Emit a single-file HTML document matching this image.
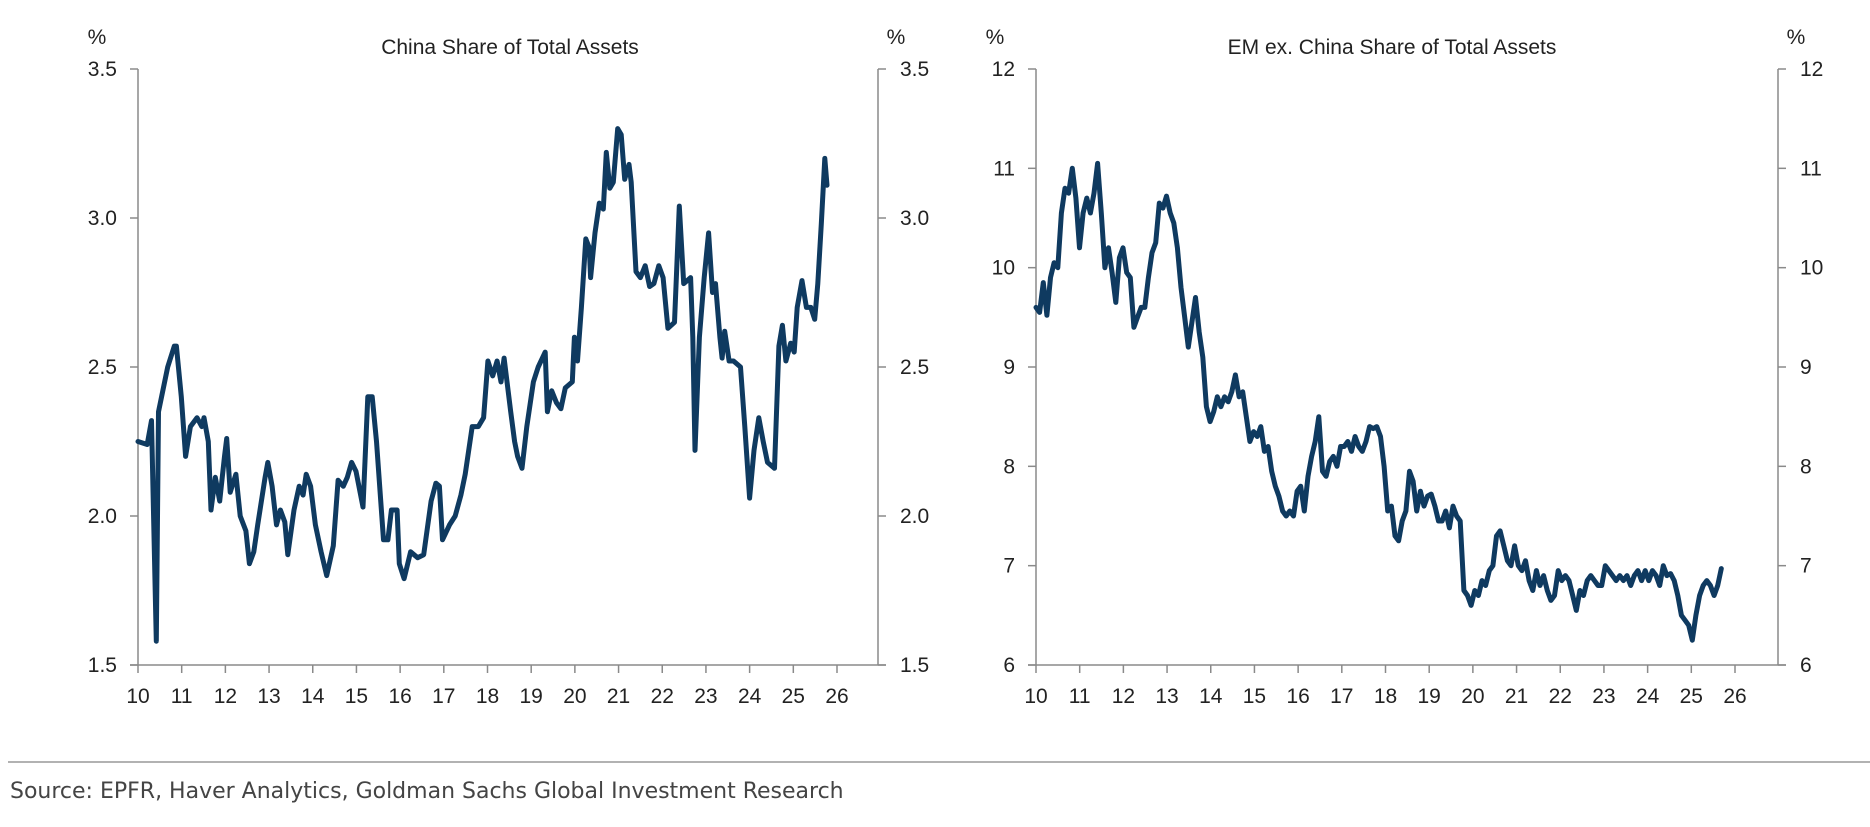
<!DOCTYPE html>
<html><head><meta charset="utf-8"><style>
html,body{margin:0;padding:0;background:#fff;}
svg{display:block;font-family:"Liberation Sans",Arial,sans-serif;}
</style></head><body>
<svg id="chart" width="1870" height="827" viewBox="0 0 1870 827">
<line x1="8" y1="762" x2="1870" y2="762" stroke="#999" stroke-width="1.5"/>
<text x="10" y="798" font-size="22" fill="#444" font-family="'DejaVu Sans','Liberation Sans',sans-serif">Source: EPFR, Haver Analytics, Goldman Sachs Global Investment Research</text>
</svg>
<script>
// China share data (year, %)
const chinaYears = [10.00,10.21,10.31,10.42,10.47,10.68,10.83,10.88,10.99,11.09,11.20,11.35,11.46,11.51,11.61,11.67,11.77,11.87,11.98,12.03,12.11,12.24,12.34,12.47,12.55,12.65,12.74,12.91,12.97,13.07,13.17,13.26,13.36,13.43,13.57,13.69,13.78,13.85,13.95,14.06,14.19,14.32,14.47,14.58,14.70,14.79,14.89,14.99,15.15,15.26,15.36,15.46,15.62,15.72,15.80,15.93,15.98,16.09,16.24,16.40,16.54,16.71,16.82,16.90,16.97,17.13,17.26,17.39,17.49,17.65,17.79,17.91,18.01,18.12,18.22,18.31,18.38,18.53,18.62,18.69,18.79,18.90,19.05,19.16,19.32,19.37,19.47,19.58,19.68,19.78,19.94,19.99,20.06,20.15,20.25,20.33,20.36,20.46,20.56,20.65,20.72,20.80,20.88,20.98,21.06,21.14,21.24,21.29,21.40,21.50,21.61,21.71,21.81,21.92,22.02,22.13,22.28,22.39,22.49,22.65,22.70,22.75,22.85,22.96,23.06,23.15,23.22,23.32,23.37,23.43,23.53,23.63,23.79,23.89,24.00,24.10,24.21,24.31,24.41,24.57,24.67,24.75,24.83,24.94,25.02,25.09,25.20,25.30,25.40,25.49,25.56,25.64,25.72,25.77];
const chinaValues = [2.25,2.24,2.32,1.58,2.35,2.5,2.57,2.57,2.4,2.2,2.3,2.33,2.3,2.33,2.25,2.02,2.13,2.05,2.2,2.26,2.08,2.14,2.0,1.95,1.84,1.88,1.97,2.13,2.18,2.1,1.97,2.02,1.98,1.87,2.02,2.1,2.07,2.14,2.1,1.97,1.88,1.8,1.9,2.12,2.1,2.13,2.18,2.15,2.03,2.4,2.4,2.25,1.92,1.92,2.02,2.02,1.84,1.79,1.88,1.86,1.87,2.05,2.11,2.1,1.92,1.97,2.0,2.07,2.14,2.3,2.3,2.33,2.52,2.47,2.52,2.45,2.53,2.35,2.25,2.2,2.16,2.3,2.45,2.5,2.55,2.35,2.42,2.38,2.36,2.43,2.45,2.6,2.52,2.7,2.93,2.9,2.8,2.95,3.05,3.03,3.22,3.1,3.12,3.3,3.28,3.13,3.18,3.12,2.82,2.8,2.84,2.77,2.78,2.84,2.8,2.63,2.65,3.04,2.78,2.8,2.6,2.22,2.6,2.8,2.95,2.75,2.78,2.6,2.53,2.62,2.52,2.52,2.5,2.3,2.06,2.22,2.33,2.25,2.18,2.16,2.57,2.64,2.52,2.58,2.55,2.7,2.79,2.7,2.7,2.66,2.78,2.98,3.2,3.11];
// EM ex China monthly data
const emStartYear = 10.0;
const emStepYears = 0.083;
const emValues = [9.6,9.55,9.85,9.52,9.9,10.05,10.0,10.55,10.8,10.75,11.0,10.7,10.2,10.55,10.7,10.55,10.75,11.05,10.55,10.0,10.2,9.95,9.65,10.1,10.2,9.95,9.9,9.4,9.5,9.6,9.6,9.9,10.15,10.25,10.65,10.6,10.72,10.55,10.45,10.2,9.8,9.5,9.2,9.45,9.7,9.35,9.1,8.6,8.45,8.55,8.7,8.6,8.7,8.65,8.75,8.92,8.7,8.75,8.5,8.25,8.35,8.3,8.4,8.15,8.2,7.95,7.8,7.7,7.55,7.5,7.55,7.5,7.75,7.8,7.55,7.9,8.1,8.25,8.5,7.95,7.9,8.05,8.1,8.0,8.2,8.2,8.25,8.15,8.3,8.2,8.15,8.25,8.4,8.38,8.4,8.3,8.0,7.55,7.6,7.3,7.25,7.45,7.55,7.95,7.85,7.55,7.75,7.6,7.7,7.72,7.6,7.45,7.45,7.55,7.38,7.6,7.5,7.45,6.75,6.7,6.6,6.75,6.7,6.85,6.8,6.95,7.0,7.3,7.35,7.2,7.05,7.0,7.2,7.0,6.95,7.05,6.85,6.75,6.95,6.8,6.9,6.75,6.65,6.7,6.95,6.85,6.9,6.85,6.7,6.55,6.75,6.7,6.85,6.9,6.85,6.8,6.8,7.0,6.95,6.9,6.85,6.9,6.85,6.9,6.8,6.9,6.95,6.85,6.95,6.85,6.95,6.9,6.8,7.0,6.9,6.92,6.85,6.7,6.5,6.45,6.4,6.25,6.5,6.7,6.8,6.85,6.8,6.7,6.8,6.97];
const yearLabels = ["10","11","12","13","14","15","16","17","18","19","20","21","22","23","24","25","26"];
const chinaTicks = [1.5,2.0,2.5,3.0,3.5];
const chinaTickLabels = ["1.5","2.0","2.5","3.0","3.5"];
const emTicks = [6,7,8,9,10,11,12];
const emTickLabels = ["6","7","8","9","10","11","12"];

const NS="http://www.w3.org/2000/svg";
const svg=document.getElementById('chart');
function mk(tag,attrs,parent){const e=document.createElementNS(NS,tag);for(const k in attrs)e.setAttribute(k,attrs[k]);(parent||svg).appendChild(e);return e;}

function panel(cfg){
  const g=mk('g',{});
  
  
  const L=cfg.left,R=cfg.right,T=69,B=665;
  const xs=y=>L+(y-10)/16*(cfg.xEnd-L);
  const ys=v=>B-(v-cfg.ymin)/(cfg.ymax-cfg.ymin)*(B-T);
  const ax='#8a8a8a';
  let l=mk('line',{x1:L,y1:T,x2:L,y2:B,stroke:ax,'stroke-width':1.5},g);
  
  
  l=mk('line',{x1:R,y1:T,x2:R,y2:B,stroke:ax,'stroke-width':1.5},g);
  
  
  l=mk('line',{x1:L-8,y1:B,x2:R+8,y2:B,stroke:ax,'stroke-width':1.5},g);
  
  
  cfg.ticks.forEach((v,i)=>{
    const y=ys(v);
    mk('line',{x1:L-8,y1:y,x2:L,y2:y,stroke:ax,'stroke-width':1.5},g);
    mk('line',{x1:R,y1:y,x2:R+8,y2:y,stroke:ax,'stroke-width':1.5},g);
    let t=mk('text',{x:L-21,y:y+7,'text-anchor':'end','font-size':21,fill:'#222'},g);
    t.textContent=cfg.tickLabels[i];
    
    
    t=mk('text',{x:R+22,y:y+7,'text-anchor':'start','font-size':21,fill:'#222'},g);
    t.textContent=cfg.tickLabels[i];
    
    
  });
  yearLabels.forEach((lab,i)=>{
    const x=xs(10+i);
    mk('line',{x1:x,y1:B,x2:x,y2:B+8,stroke:ax,'stroke-width':1.5},g);
    const t=mk('text',{x:x,y:703,'text-anchor':'middle','font-size':21,fill:'#222'},g);
    t.textContent=lab;
    
    
  });
  let t=mk('text',{x:L-41,y:44,'text-anchor':'middle','font-size':21,fill:'#222'},g);
  t.textContent='%';
  
  
  t=mk('text',{x:R+18,y:44,'text-anchor':'middle','font-size':21,fill:'#222'},g);
  t.textContent='%';
  
  
  t=mk('text',{x:cfg.titleX,y:54,'text-anchor':'middle','font-size':21,fill:'#222'},g);
  t.textContent=cfg.title;
  
  
  const d=cfg.xvals.map((yv,i)=>(i?'L':'M')+xs(yv).toFixed(1)+','+ys(cfg.vals[i]).toFixed(1)).join('');
  const p=mk('path',{d:d,fill:'none',stroke:'#0f3a60','stroke-width':5,'stroke-linejoin':'round','stroke-linecap':'round'},g);
  
  
}
panel({name:'china-share-chart',left:138,right:878,xEnd:837,ymin:1.5,ymax:3.5,ticks:chinaTicks,tickLabels:chinaTickLabels,title:'China Share of Total Assets',titleX:510,xvals:chinaYears,vals:chinaValues});
const emYears=emValues.map((v,i)=>emStartYear+i*emStepYears);
panel({name:'em-ex-china-share-chart',left:1036,right:1778,xEnd:1735,ymin:6,ymax:12,ticks:emTicks,tickLabels:emTickLabels,title:'EM ex. China Share of Total Assets',titleX:1392,xvals:emYears,vals:emValues});
</script>
</body></html>
